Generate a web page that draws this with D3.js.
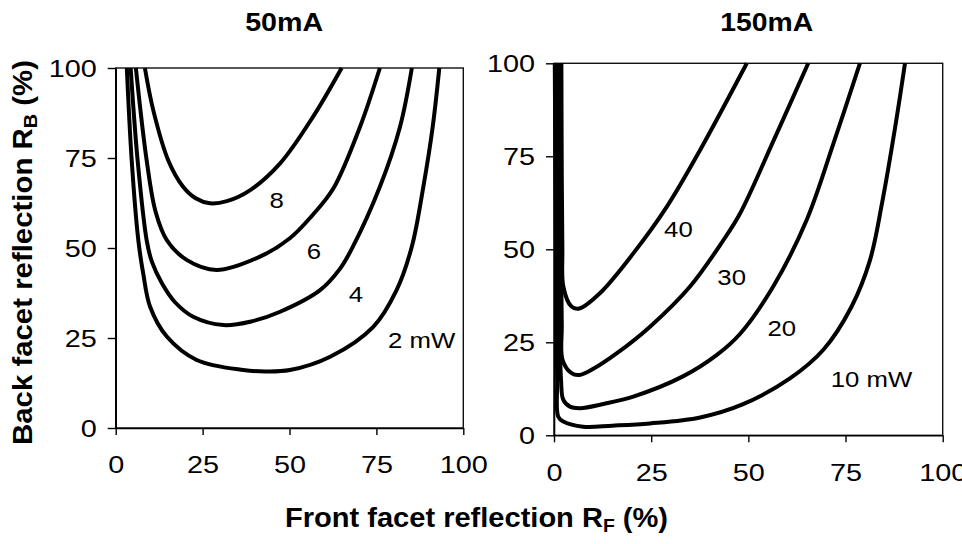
<!DOCTYPE html>
<html>
<head>
<meta charset="utf-8">
<script src="https://cdn.jsdelivr.net/npm/d3@7"></script>
<style>
  html, body { margin: 0; padding: 0; background: #fff; }
  svg { display: block; }
</style>
</head>
<body>
<svg id="chart" width="962" height="544"></svg>
<script>
// ---------------- DATA ----------------
const TICKS = [0, 25, 50, 75, 100];
const PANEL_TITLES = ["50mA", "150mA"];

// 50 mA panel: [front facet reflection RF %, back facet reflection RB %]
const P50_2mW = [[3.2,100],[4.6,74.4],[6.5,52.2],[7.9,43],[9.9,33.7],[14.7,25.4],[23.3,18.9],[36.7,16.1],[43,15.7],[50.1,16.1],[61.7,19.8],[74.1,28.1],[80.8,38.3],[85.2,50.4],[88.5,67],[91.2,83.7],[93.1,100]];
const P50_4mW = [[4.3,100],[6.3,74.4],[8.9,52.2],[10.4,46.2],[13.3,40.2],[17,35],[22.3,30.9],[31,28.6],[39,29.6],[47.3,32.3],[58.8,38.3],[64.5,44.2],[68.2,50.3],[76,67],[81.8,83.7],[85.2,100]];
const P50_6mW = [[5.8,100],[8.9,74.4],[11.5,60],[14.7,52.2],[20.4,46.7],[29,43.9],[41.5,47.6],[50.1,52.7],[56.5,59],[62.6,66.5],[70.3,83.7],[76,100]];
const P50_8mW = [[8.4,100],[10.8,88.3],[15.1,74.4],[19.4,67],[23,63.8],[27.1,62.4],[32,63],[38.6,66],[47.3,73.5],[56.8,86.5],[65,100]];

// 150 mA panel
const P150_10mW = [[0.2,100],[0.5,50],[0.8,15],[1.1,5],[2.4,3.7],[7.5,2.3],[15,2.6],[24.7,3.2],[37.6,4.8],[48.5,8.3],[60.7,15.3],[69.3,23],[76.5,34.5],[81.3,47.1],[84.5,63],[87.8,83],[90.3,100]];
const P150_20mW = [[0.9,100],[1.2,50],[1.8,15],[2.4,9.5],[4.1,7.7],[6.7,7.3],[13,8.5],[20.4,10.4],[33.3,15.9],[41.9,21.6],[47.9,27.3],[56.4,40],[65,57.9],[71.9,78.5],[78.7,100]];
const P150_30mW = [[1.5,100],[1.7,60],[2.0,30],[2.2,20.3],[4.5,16.7],[6.5,16.2],[10,17.8],[16.1,22],[24.7,29.2],[35,40],[43.6,52.5],[47.9,59.7],[56.4,79],[65.4,100]];
const P150_40mW = [[1.9,100],[2.0,70],[2.15,50],[2.4,40],[4.5,34.6],[6.5,34.1],[11.8,38.2],[20.4,48.9],[29,61.4],[37.6,76.7],[49.6,100]];

const SERIES_50 = [P50_2mW, P50_4mW, P50_6mW, P50_8mW];
const SERIES_150 = [P150_10mW, P150_20mW, P150_30mW, P150_40mW];
const LABELS_50 = ["2 mW", "4", "6", "8"];
const LABELS_150 = ["10 mW", "20", "30", "40"];
// label anchor points in data coordinates (RF, RB)
const LABEL_AT_50 = [[88,24.4],[69.1,37.4],[57,49.2],[46.3,63.3]];
const LABEL_AT_150 = [[81.7,15.3],[58.6,28.8],[45.7,42.6],[32,55.6]];

// ---------------- DRAW ----------------
const FONT = "'Liberation Sans', Arial, Helvetica, sans-serif";
const svg = d3.select("#chart");
svg.append("rect").attr("width", 962).attr("height", 544).attr("fill", "#fff");

const panels = [
  { title: PANEL_TITLES[0], series: SERIES_50, labels: LABELS_50, labelAt: LABEL_AT_50,
    x0: 115.7, x1: 463.3, y0: 428, y1: 68, titleX: 284.2, titleLen: 78 },
  { title: PANEL_TITLES[1], series: SERIES_150, labels: LABELS_150, labelAt: LABEL_AT_150,
    x0: 554, x1: 942.7, y0: 435.3, y1: 63.3, titleX: 766.7, titleLen: 93 }
];

const TICK_SX = 1.2;   // horizontal stretch of the original's text
const LABEL_SX = 1.12;

function stretchText(sel, sx) {
  sel.each(function () {
    const t = d3.select(this);
    const x = +t.attr("x") || 0, y = +t.attr("y") || 0;
    t.attr("x", 0).attr("y", 0).attr("transform", `translate(${x},${y}) scale(${sx},1)`);
  });
}

panels.forEach(p => {
  const x = d3.scaleLinear().domain([0, 100]).range([p.x0, p.x1]);
  const y = d3.scaleLinear().domain([0, 100]).range([p.y0, p.y1]);

  // frame
  svg.append("rect")
    .attr("x", p.x0).attr("y", p.y1)
    .attr("width", p.x1 - p.x0).attr("height", p.y0 - p.y1)
    .attr("fill", "none").attr("stroke", "#111").attr("stroke-width", 1.4);

  // axes
  const gx = svg.append("g").attr("transform", `translate(0,${p.y0})`)
    .call(d3.axisBottom(x).tickValues(TICKS).tickFormat(d3.format("d")).tickSize(7).tickSizeOuter(0).tickPadding(21.2));
  const gy = svg.append("g").attr("transform", `translate(${p.x0},0)`)
    .call(d3.axisLeft(y).tickValues(TICKS).tickFormat(d3.format("d")).tickSize(8).tickSizeOuter(0).tickPadding(11));
  [gx, gy].forEach(g => {
    g.select(".domain").attr("stroke", "#000").attr("stroke-width", 1.6);
    g.selectAll(".tick line").attr("stroke", "#000").attr("stroke-width", 1.4);
    g.selectAll(".tick text").attr("font-family", FONT).attr("font-size", 24).attr("fill", "#000");
    g.attr("font-family", null).attr("font-size", null);
  });
  gy.selectAll(".tick text").attr("dy", "0.36em");
  stretchText(gx.selectAll(".tick text"), TICK_SX);
  stretchText(gy.selectAll(".tick text"), TICK_SX);

  // curves
  const line = d3.line()
    .x(d => x(d[0])).y(d => y(d[1]))
    .curve(d3.curveCatmullRom.alpha(0.5));
  svg.append("g").selectAll("path").data(p.series).join("path")
    .attr("d", line)
    .attr("fill", "none").attr("stroke", "#000")
    .attr("stroke-width", 4).attr("stroke-linejoin", "round").attr("stroke-linecap", "butt");

  // curve labels
  const lab = svg.append("g").selectAll("text").data(p.labels).join("text")
    .attr("x", (d, i) => x(p.labelAt[i][0]))
    .attr("y", (d, i) => y(p.labelAt[i][1]))
    .attr("dy", "0.36em")
    .attr("text-anchor", "middle")
    .attr("font-family", FONT).attr("font-size", 23).attr("fill", "#000")
    .text(d => d);
  stretchText(lab, LABEL_SX);

  // panel title
  svg.append("text")
    .attr("x", p.titleX).attr("y", 30.7)
    .attr("text-anchor", "middle")
    .attr("font-family", FONT).attr("font-weight", "bold").attr("font-size", 25)
    .attr("textLength", p.titleLen).attr("lengthAdjust", "spacingAndGlyphs")
    .text(p.title);
});

// x-axis title
const xt = svg.append("text")
  .attr("x", 476.5).attr("y", 527)
  .attr("text-anchor", "middle")
  .attr("font-family", FONT).attr("font-weight", "bold").attr("font-size", 27)
  .attr("textLength", 383).attr("lengthAdjust", "spacingAndGlyphs");
xt.append("tspan").text("Front facet reflection R");
xt.append("tspan").attr("font-size", 18).attr("dy", 5).text("F");
xt.append("tspan").attr("dy", -5).text(" (%)");

// y-axis title
const yt = svg.append("text")
  .attr("transform", "translate(32,252.5) rotate(-90)")
  .attr("text-anchor", "middle")
  .attr("font-family", FONT).attr("font-weight", "bold").attr("font-size", 28)
  .attr("textLength", 385).attr("lengthAdjust", "spacingAndGlyphs");
yt.append("tspan").text("Back facet reflection R");
yt.append("tspan").attr("font-size", 19).attr("dy", 5).text("B");
yt.append("tspan").attr("dy", -5).text(" (%)");
</script>
</body>
</html>
